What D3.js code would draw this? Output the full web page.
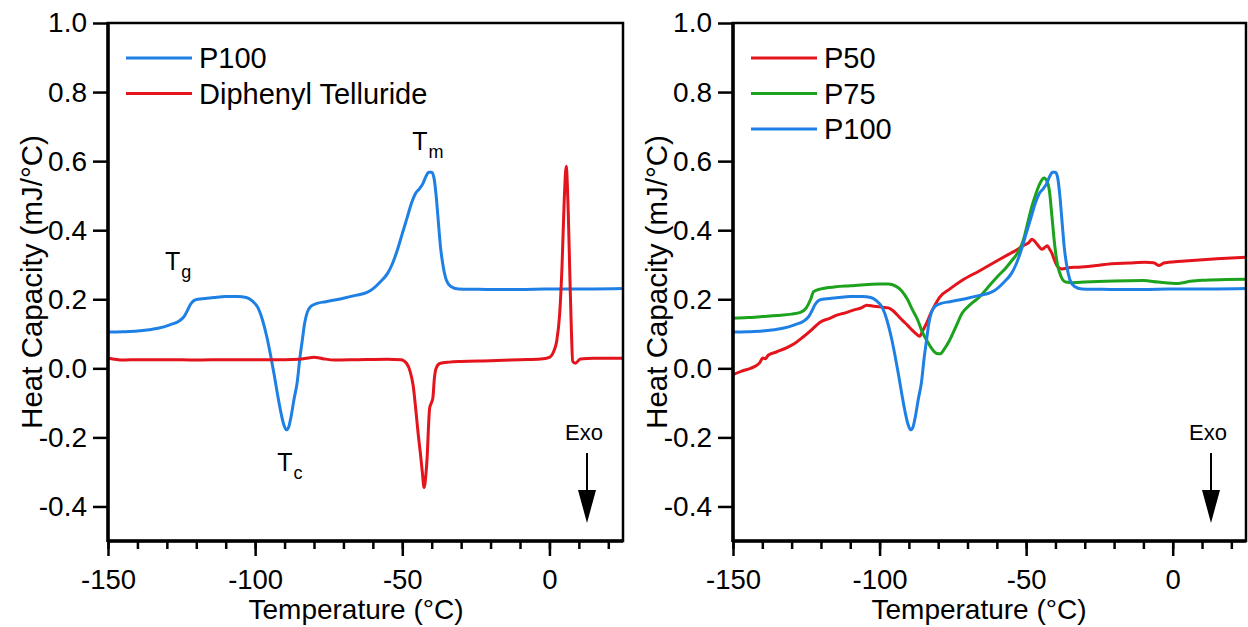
<!DOCTYPE html>
<html>
<head>
<meta charset="utf-8">
<script src="https://cdn.jsdelivr.net/npm/d3@7"></script>
<style>
  body { margin: 0; background: #fff; }
  svg { font-family: Arial, "Liberation Sans", sans-serif; }
</style>
</head>
<body>
<div id="chart"></div>
<script>
// [temperature (°C), heat capacity (mJ/°C)]
const p100 = [
  [-150,0.105],[-145,0.106],[-140,0.108],[-136,0.112],[-133,0.116],[-129,0.126],[-125.5,0.139],[-124,0.152],
  [-123,0.168],[-122,0.185],[-121,0.195],[-119.5,0.2],[-117,0.202],[-114,0.205],[-110,0.208],[-106,0.208],
  [-103,0.205],[-101,0.195],[-99,0.175],[-97.5,0.14],[-96,0.09],[-94.8,0.04],[-93.5,-0.02],[-92.3,-0.08],
  [-91.2,-0.13],[-90.2,-0.165],[-89.4,-0.178],[-88.6,-0.17],[-87.8,-0.14],[-86.8,-0.09],[-85.7,-0.04],
  [-84.8,0.03],[-84,0.08],[-83.2,0.13],[-82.3,0.162],[-81,0.18],[-79,0.188],[-76,0.193],[-73.5,0.197],
  [-70,0.203],[-65.5,0.212],[-62,0.22],[-60,0.23],[-57.5,0.25],[-55,0.275],[-53.5,0.3],[-51.7,0.342],
  [-50,0.39],[-48.3,0.438],[-46.8,0.48],[-45.6,0.505],[-44.2,0.52],[-43,0.535],[-42,0.555],[-41,0.568],
  [-40,0.568],[-39.2,0.55],[-38.5,0.5],[-37.8,0.43],[-37,0.35],[-36.2,0.3],[-35,0.255],[-33.5,0.237],
  [-31,0.23],[-25,0.229],[-15,0.228],[-5,0.229],[5,0.23],[15,0.23],[25,0.231]
];

const diphenyl = [
  [-150,0.03],[-145,0.024],[-140,0.025],[-130,0.025],[-120,0.024],[-110,0.025],[-100,0.025],[-90,0.025],
  [-85,0.026],[-82,0.03],[-80,0.032],[-77,0.028],[-73,0.024],[-65,0.025],[-55,0.026],[-50.5,0.025],
  [-48.5,0.014],[-47.3,-0.01],[-46.3,-0.05],[-45.4,-0.12],[-44.6,-0.19],[-43.8,-0.25],[-43.2,-0.3],
  [-42.6,-0.345],[-42.0,-0.31],[-41.5,-0.25],[-41.1,-0.17],[-40.7,-0.115],[-40.1,-0.1],[-39.6,-0.085],
  [-39.1,-0.03],[-38.5,0.0],[-37.3,0.014],[-34,0.018],[-30,0.02],[-20,0.022],[-10,0.025],[-3,0.027],
  [0,0.032],[1.5,0.05],[2.5,0.08],[3.5,0.16],[4.3,0.3],[5,0.48],[5.7,0.585],[6.4,0.45],[7,0.25],
  [7.5,0.1],[7.9,0.02],[8.8,0.015],[10.5,0.027],[15,0.029],[25,0.029]
];

const p75 = [
  [-150,0.145],[-145,0.147],[-140,0.15],[-135,0.153],[-130,0.157],[-127,0.162],[-125,0.175],[-123.5,0.2],
  [-122.5,0.222],[-120,0.23],[-115,0.236],[-110,0.239],[-105,0.242],[-100,0.244],[-97,0.244],[-94.5,0.238],
  [-92.5,0.225],[-90.5,0.2],[-88.8,0.17],[-87,0.14],[-85.4,0.105],[-83.5,0.075],[-82,0.055],[-80.5,0.043],
  [-79.3,0.042],[-78,0.055],[-76.2,0.08],[-74,0.12],[-71.8,0.16],[-69,0.185],[-66,0.206],[-63,0.235],
  [-60,0.264],[-57,0.29],[-54.8,0.313],[-52.5,0.34],[-51,0.37],[-49.5,0.42],[-48,0.47],[-46.6,0.507],
  [-45.2,0.537],[-43.9,0.551],[-42.8,0.54],[-42,0.51],[-41.2,0.44],[-40.3,0.36],[-39.3,0.3],[-38.1,0.266],
  [-36.5,0.25],[-34,0.248],[-30,0.25],[-20,0.253],[-10,0.254],[-5,0.25],[2,0.246],[6,0.252],[10,0.255],
  [18,0.257],[25,0.258]
];

const p50 = [
  [-150,-0.018],[-147,-0.008],[-144,0.0],[-141,0.015],[-139.8,0.03],[-139,0.028],[-138,0.038],[-135,0.048],
  [-131.6,0.06],[-129,0.072],[-126.2,0.09],[-123,0.113],[-120.4,0.133],[-117,0.145],[-114.6,0.154],
  [-112,0.16],[-109.2,0.168],[-106,0.176],[-104.4,0.183],[-102,0.18],[-99,0.177],[-97,0.175],[-95.6,0.168],
  [-94,0.155],[-92.2,0.139],[-90.5,0.125],[-88.8,0.11],[-87.5,0.1],[-86.4,0.093],[-85.2,0.11],[-84,0.13],
  [-82.5,0.16],[-81.3,0.18],[-79.6,0.205],[-76,0.23],[-71.8,0.255],[-66,0.282],[-60.2,0.31],[-56,0.33],
  [-53.4,0.342],[-51,0.355],[-49,0.365],[-48,0.374],[-46.8,0.365],[-45.6,0.352],[-44.6,0.345],[-43.9,0.348],
  [-42.8,0.355],[-42,0.345],[-41.2,0.333],[-40.2,0.31],[-39.3,0.295],[-37.8,0.288],[-35,0.292],[-32,0.293],
  [-26,0.298],[-20.8,0.303],[-15,0.305],[-9.3,0.307],[-6.5,0.306],[-4.8,0.298],[-3,0.305],[-1.4,0.307],
  [3,0.31],[7.8,0.313],[15,0.317],[25,0.322]
];

const xDomain = [-150, 25];
const yDomain = [-0.5, 1.0];
const xMajorTicks = [-150, -100, -50, 0];
const xMinorTicks = d3.range(-150, 26, 10);
const yTicks = [-0.4, -0.2, 0.0, 0.2, 0.4, 0.6, 0.8, 1.0];

const BLUE = "#1e80e4", RED = "#e3141c", GREEN = "#1ca21c";
const FONT = "Arial, 'Liberation Sans', sans-serif";

const svg = d3.select("#chart").append("svg").attr("width", 1248).attr("height", 627);

function drawPanel(opts) {
  const x = d3.scaleLinear().domain(xDomain).range([opts.left, opts.right]);
  const y = d3.scaleLinear().domain(yDomain).range([541, 23]);
  const g = svg.append("g");

  // minor x ticks
  g.append("g")
    .attr("transform", "translate(0,541)")
    .call(d3.axisBottom(x).tickValues(xMinorTicks).tickSize(8).tickFormat(""))
    .call(a => a.select(".domain").remove())
    .selectAll("line").attr("stroke-width", 2.5);

  const xa = g.append("g")
    .attr("transform", "translate(0,541)")
    .call(d3.axisBottom(x).tickValues(xMajorTicks).tickSize(15).tickPadding(13).tickFormat(d => String(d)));
  xa.select(".domain").remove();
  xa.selectAll("line").attr("stroke-width", 2.5);
  xa.selectAll("text").attr("font-size", 27.5).attr("fill", "#000").attr("font-family", FONT);

  const ya = g.append("g")
    .attr("transform", `translate(${opts.left},0)`)
    .call(d3.axisLeft(y).tickValues(yTicks).tickSize(15).tickPadding(6).tickFormat(d => d3.format(".1f")(d).replace("−", "-")));
  ya.select(".domain").remove();
  ya.selectAll("line").attr("stroke-width", 2.5);
  ya.selectAll("text").attr("font-size", 28).attr("fill", "#000").attr("font-family", FONT);

  const line = d3.line().x(d => x(d[0])).y(d => y(d[1])).curve(d3.curveMonotoneX);

  opts.series.forEach(s => {
    g.append("path")
      .datum(s.data)
      .attr("fill", "none")
      .attr("stroke", s.color)
      .attr("stroke-width", 3)
      .attr("stroke-linejoin", "round")
      .attr("d", line);
  });

  // frame
  g.append("rect")
    .attr("x", opts.left).attr("y", 23)
    .attr("width", opts.right - opts.left).attr("height", 541 - 23)
    .attr("fill", "none").attr("stroke", "#000").attr("stroke-width", 2.5);
  g.append("line")
    .attr("x1", opts.left).attr("x2", opts.left).attr("y1", 22).attr("y2", 542)
    .attr("stroke", "#000").attr("stroke-width", 3.5);
  g.append("line")
    .attr("x1", opts.left).attr("x2", opts.right).attr("y1", 541).attr("y2", 541)
    .attr("stroke", "#000").attr("stroke-width", 3.5);

  // legend
  const leg = g.selectAll(".legend")
    .data(opts.series)
    .enter()
    .append("g")
    .attr("transform", (d, i) => `translate(${opts.left + 18},${58 + i * 35.5})`);
  leg.append("line").attr("x1", 0).attr("x2", 66).attr("stroke", d => d.color).attr("stroke-width", 3);
  leg.append("text").attr("x", 73).attr("y", 10).attr("font-size", 29).text(d => d.name);

  // axis titles
  g.append("text")
    .attr("x", opts.titleX).attr("y", 619)
    .attr("text-anchor", "middle").attr("font-size", 28)
    .text("Temperature (°C)");
  g.append("text")
    .attr("transform", `translate(${opts.left - 66},282) rotate(-90)`)
    .attr("text-anchor", "middle").attr("font-size", 29.5)
    .text("Heat Capacity (mJ/°C)");

  // Exo arrow
  const ex = opts.exoX;
  g.append("text").attr("x", ex - 3).attr("y", 440).attr("text-anchor", "middle").attr("font-size", 22).text("Exo");
  g.append("line").attr("x1", ex).attr("x2", ex).attr("y1", 453).attr("y2", 492).attr("stroke", "#000").attr("stroke-width", 2);
  g.append("path")
    .attr("d", `M${ex - 9},490 L${ex + 9},490 L${ex},523 Z`)
    .attr("fill", "#000");

  return { x, y, g };
}

const left = drawPanel({
  left: 108, right: 623, titleX: 356, exoX: 587,
  series: [
    { name: "P100", data: p100, color: BLUE },
    { name: "Diphenyl Telluride", data: diphenyl, color: RED }
  ]
});

drawPanel({
  left: 733, right: 1246, titleX: 979, exoX: 1211,
  series: [
    { name: "P50", data: p50, color: RED },
    { name: "P75", data: p75, color: GREEN },
    { name: "P100", data: p100, color: BLUE }
  ]
});

// transition labels on the left panel (position = start of "T", baseline)
const labels = [
  { t: -130.6, v: 0.284, sub: "g" },
  { t: -92.5, v: -0.296, sub: "c" },
  { t: -46.6, v: 0.632, sub: "m" }
];
labels.forEach(l => {
  const txt = left.g.append("text")
    .attr("x", left.x(l.t)).attr("y", left.y(l.v))
    .attr("font-size", 25);
  txt.append("tspan").text("T");
  txt.append("tspan").attr("font-size", 18).attr("dy", 8).attr("dx", 1).text(l.sub);
});
</script>
</body>
</html>
